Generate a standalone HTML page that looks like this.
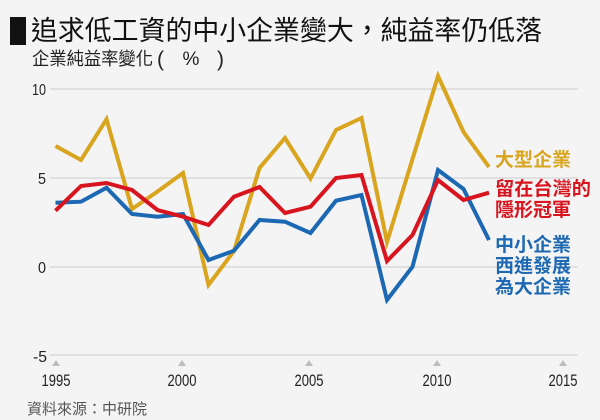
<!DOCTYPE html>
<html>
<head>
<meta charset="utf-8">
<style>
  html,body{margin:0;padding:0;background:#f4f4f4;}
  svg{display:block;}
  .cjk{font-family:"Liberation Sans","Noto Sans CJK TC","Noto Sans CJK SC",sans-serif;}
  .num{font-family:"Liberation Sans",sans-serif;}
</style>
</head>
<body>
<svg width="600" height="420" viewBox="0 0 600 420" xmlns="http://www.w3.org/2000/svg">
  <rect x="0" y="0" width="600" height="420" fill="#f4f4f4"/>

  <!-- Title -->
  <rect x="10" y="17" width="16" height="28" fill="#111"/>
  <text class="cjk" x="31" y="40" font-size="27" fill="#111" textLength="511" lengthAdjust="spacingAndGlyphs">追求低工資的中小企業變大，純益率仍低落</text>
  <text class="cjk" x="32" y="65" font-size="18" fill="#222" textLength="121" lengthAdjust="spacingAndGlyphs">企業純益率變化</text>
  <text class="num" x="157" y="66" font-size="21" fill="#222">(</text>
  <text class="num" x="191" y="65" font-size="19" fill="#222" text-anchor="middle">%</text>
  <text class="num" x="224" y="66" font-size="21" fill="#222" text-anchor="end">)</text>

  <!-- gridlines -->
  <g stroke="#d9d9d9" stroke-width="1.5">
    <line x1="50" y1="89" x2="578" y2="89"/>
    <line x1="50" y1="178" x2="578" y2="178"/>
    <line x1="50" y1="267" x2="578" y2="267"/>
    <line x1="50" y1="355" x2="578" y2="355"/>
  </g>

  <!-- y labels -->
  <g class="num" font-size="16" fill="#222" text-anchor="end">
    <text x="46" y="95" textLength="14" lengthAdjust="spacingAndGlyphs">10</text>
    <text x="46" y="184" textLength="8" lengthAdjust="spacingAndGlyphs">5</text>
    <text x="46" y="273" textLength="8" lengthAdjust="spacingAndGlyphs">0</text>
    <text x="47" y="362" textLength="14" lengthAdjust="spacingAndGlyphs">-5</text>
  </g>

  <!-- ticks -->
  <g fill="#bdbdbd">
    <polygon points="52,366 60,366 56,360"/>
    <polygon points="178,366 186,366 182,360"/>
    <polygon points="305,366 313,366 309,360"/>
    <polygon points="433,366 441,366 437,360"/>
    <polygon points="559,366 567,366 563,360"/>
  </g>
  <g class="num" font-size="17" fill="#222" text-anchor="middle">
    <text x="56" y="386" textLength="29" lengthAdjust="spacingAndGlyphs">1995</text>
    <text x="182" y="386" textLength="29" lengthAdjust="spacingAndGlyphs">2000</text>
    <text x="309" y="386" textLength="29" lengthAdjust="spacingAndGlyphs">2005</text>
    <text x="437" y="386" textLength="29" lengthAdjust="spacingAndGlyphs">2010</text>
    <text x="563" y="386" textLength="29" lengthAdjust="spacingAndGlyphs">2015</text>
  </g>

  <!-- series -->
  <g fill="none" stroke-width="4" stroke-linejoin="miter" stroke-miterlimit="10" stroke-linecap="butt">
    <polyline stroke="#d9a41e" points="55.5,146 81,160 106.5,119.3 132,209 157.5,191.5 183,173 208.5,285 234,251 259.5,168 285,138 310.5,178.5 336,130 361.5,118 387,242 412.5,159 438,76 463.5,132 489,167"/>
    <polyline stroke="#1c68b2" points="55.5,202.7 81,201.7 106.5,187.7 132,214 157.5,216.7 183,214 208.5,260 234,250.7 259.5,220 285,221.7 310.5,233 336,200.7 361.5,195 387,300 412.5,266.7 438,170 463.5,189 489,240"/>
    <polyline stroke="#d8151f" points="55.5,210.7 81,186 106.5,183 132,190 157.5,210 183,216.7 208.5,225 234,196.7 259.5,187 285,213 310.5,206.7 336,178 361.5,175 387,261 412.5,235 438,180 463.5,200 489,192.7"/>
  </g>

  <!-- legend labels -->
  <g class="cjk" font-size="19" font-weight="bold">
    <text x="495" y="166" fill="#d9a41e" textLength="76" lengthAdjust="spacingAndGlyphs">大型企業</text>
    <text x="495" y="195" fill="#d8151f" textLength="96" lengthAdjust="spacingAndGlyphs">留在台灣的</text>
    <text x="495" y="216" fill="#d8151f" textLength="76" lengthAdjust="spacingAndGlyphs">隱形冠軍</text>
    <text x="495" y="251" fill="#1c68b2" textLength="76" lengthAdjust="spacingAndGlyphs">中小企業</text>
    <text x="495" y="272" fill="#1c68b2" textLength="76" lengthAdjust="spacingAndGlyphs">西進發展</text>
    <text x="495" y="293" fill="#1c68b2" textLength="76" lengthAdjust="spacingAndGlyphs">為大企業</text>
  </g>

  <!-- source -->
  <text class="cjk" x="27" y="414" font-size="15" fill="#555" textLength="120" lengthAdjust="spacingAndGlyphs">資料來源：中研院</text>
</svg>
</body>
</html>
